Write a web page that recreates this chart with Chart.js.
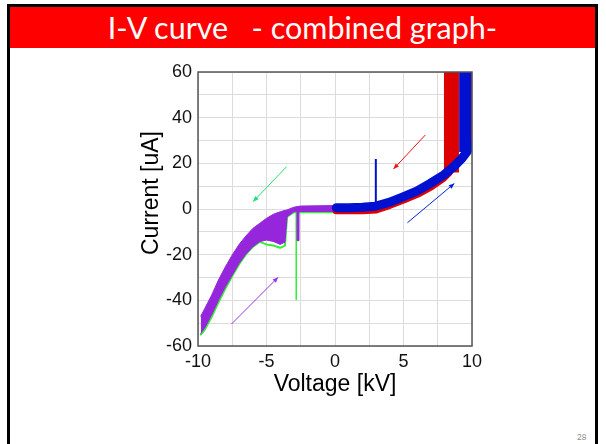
<!DOCTYPE html>
<html>
<head>
<meta charset="utf-8">
<script src="https://cdn.jsdelivr.net/npm/chart.js@4.4.1/dist/chart.umd.min.js"></script>
<style>
	body { margin: 0; width: 606px; height: 444px; background: #fff; overflow: hidden; position: relative; font-family: Lato, sans-serif; }
	#marco { position: absolute; left: 7px; top: 4px; width: 585px; height: 460px; border: 3px solid #000; border-bottom: none; }
	#titulo { position: absolute; left: 0; top: 0; width: 585px; height: 41px; background: #ff0000; color: #fff; font-size: 30.5px; line-height: 41px; text-align: center; white-space: pre; }
	#pagina { position: absolute; left: 577px; top: 432px; font-size: 8px; color: #888; }
	#caixa { position: absolute; left: 130px; top: 62px; width: 362px; height: 336px; }
</style>
</head>
<body>
<div id="marco"><div id="titulo">I-V curve   - combined graph-</div></div>
<div id="pagina">28</div>
<div id="caixa"><canvas id="grafico_iv"></canvas></div>

<script>
// eixos
var x_ticks = [-10, -5, 0, 5, 10];
var y_ticks = [-60, -40, -20, 0, 20, 40, 60];

// subida positiva (azul) - centro da faixa
var azul_v = [0.1, 1, 2, 2.93, 4, 5, 6, 6.95, 7.93, 8.66, 9.27, 9.63, 9.9];
var azul_i = [0.6, 0.6, 0.8, 1.2, 3.0, 5.4, 7.9, 11.2, 14.9, 18.5, 22.2, 25.1, 28];
var azul_coluna_v = [9.5, 9.5];
var azul_coluna_i = [25, 60];
var azul_pico_v = [2.98, 2.98];
var azul_pico_i = [1.5, 21.9];

// descida positiva (vermelho)
var verm_v = [0.1, 1, 2, 3, 4, 5, 6, 7, 7.9, 8.3];
var verm_i = [-0.6, -0.6, -0.5, -0.2, 1.8, 4.1, 6.6, 9.9, 13.6, 16];
var verm_coluna_v = [8.5, 8.5];
var verm_coluna_i = [16, 60];
var verm_borda_v = [9.97, 9.97];
var verm_borda_i = [27, 60];

// lado negativo (roxo = faixa entre topo e base)
var roxo_v = [-9.8, -9.5, -9, -8.5, -8, -7.5, -7, -6.5, -6, -5.5, -5, -4.5, -4, -3.65, -3.5, -3, -2.5, 0];
var roxo_topo = [-47, -43.5, -37.7, -31, -25.3, -20.1, -15.5, -11.8, -8.5, -6.3, -4.1, -2.3, -1.2, -0.6, -0.4, 0.8, 1.3, 1.5];
var roxo_base = [-54.5, -52, -46.3, -39.9, -34, -28.9, -23.8, -19.7, -16.5, -14.3, -13.6, -14.2, -15.5, -14.5, -3.4, -1.2, -1.1, -1.1];
var roxo_pico_v = [-2.7, -2.7];
var roxo_pico_i = [0, -13.5];

// verde (por baixo do roxo)
var verde_i = [-55, -52.8, -47.2, -40.8, -34.8, -29.4, -24.2, -19.9, -16.6, -14.4, -15.5, -16, -17, -16, -3.4, -1.4, -1.4, -1.4];
var verde_pico_v = [-2.83, -2.83];
var verde_pico_i = [0, -39.6];

// setas: inicio e fim em kV / uA
var setas_cor = ["#22dd77", "#9933ee", "#ee1111", "#0022dd"];
var setas_v0 = [-3.54, -7.56, 6.59, 5.29];
var setas_i0 = [18.5, -50.4, 32.4, -6.0];
var setas_v1 = [-5.98, -4.15, 4.27, 8.71];
var setas_i1 = [3.2, -29.9, 17.5, 11.2];

function pontos(vs, is) {
	return vs.map(function (v, k) { return { x: v, y: is[k] }; });
}

function linha(vs, is, cor, largura, ordem, extra) {
	var ds = {
		data: pontos(vs, is),
		borderColor: cor,
		backgroundColor: cor,
		borderWidth: largura,
		pointRadius: 0,
		showLine: true,
		borderJoinStyle: "round",
		borderCapStyle: "round",
		order: ordem,
	};
	for (var k in extra) ds[k] = extra[k];
	return ds;
}

var AZUL = "#0010d0";
var VERMELHO = "#dd0000";
var ROXO = "#9526dc";
var VERDE = "#33ee33";

var datasets = [
	linha(azul_pico_v, azul_pico_i, AZUL, 2, 0, { borderCapStyle: "butt" }),
	linha(azul_coluna_v, azul_coluna_i, AZUL, 12, 1, { borderCapStyle: "butt" }),
	linha(azul_v, azul_i, AZUL, 9, 2),
	linha(verm_borda_v, verm_borda_i, VERMELHO, 3, 3, { borderCapStyle: "butt" }),
	linha(verm_coluna_v, verm_coluna_i, VERMELHO, 15, 4, { borderCapStyle: "butt" }),
	linha(verm_v, verm_i, VERMELHO, 8, 5),
	linha(roxo_pico_v, roxo_pico_i, ROXO, 3, 6, { borderCapStyle: "butt" }),
	linha(roxo_v, roxo_topo, ROXO, 1, 7, { fill: "+1" }),
	linha(roxo_v, roxo_base, ROXO, 1, 8),
	linha(roxo_v, verde_i, VERDE, 2, 9),
	linha(verde_pico_v, verde_pico_i, VERDE, 1.5, 10, { borderCapStyle: "butt" }),
];

var moldura_e_setas = {
	id: "moldura_e_setas",
	afterDatasetsDraw: function (chart) {
		var ctx = chart.ctx;
		var a = chart.chartArea;
		var sx = chart.scales.x;
		var sy = chart.scales.y;
		ctx.save();
		ctx.strokeStyle = "#555";
		ctx.lineWidth = 1.5;
		ctx.strokeRect(a.left, a.top, a.right - a.left, a.bottom - a.top);

		for (var k = 0; k < setas_cor.length; k++) {
			var x0 = sx.getPixelForValue(setas_v0[k]);
			var y0 = sy.getPixelForValue(setas_i0[k]);
			var x1 = sx.getPixelForValue(setas_v1[k]);
			var y1 = sy.getPixelForValue(setas_i1[k]);
			var ang = Math.atan2(y1 - y0, x1 - x0);
			ctx.strokeStyle = setas_cor[k];
			ctx.fillStyle = setas_cor[k];
			ctx.lineWidth = 1;
			ctx.beginPath();
			ctx.moveTo(x0, y0);
			ctx.lineTo(x1, y1);
			ctx.stroke();
			ctx.beginPath();
			ctx.moveTo(x1, y1);
			ctx.lineTo(x1 - 6 * Math.cos(ang - 0.4), y1 - 6 * Math.sin(ang - 0.4));
			ctx.lineTo(x1 - 6 * Math.cos(ang + 0.4), y1 - 6 * Math.sin(ang + 0.4));
			ctx.closePath();
			ctx.fill();
		}
		ctx.restore();
	},
};

var fonte_ticks = { family: "'Liberation Sans', Arial, sans-serif", size: 18 };
var fonte_titulo = { family: "'Liberation Sans', Arial, sans-serif", size: 23 };

// tira o espaco extra que o Chart.js reserva para os rotulos nas pontas
function sem_folga(s) {
	s.paddingTop = 0;
	s.paddingBottom = 0;
	s.paddingLeft = 0;
	s.paddingRight = 0;
}

new Chart(document.getElementById("grafico_iv"), {
	type: "scatter",
	data: { datasets: datasets },
	options: {
		responsive: true,
		maintainAspectRatio: false,
		animation: false,
		layout: { padding: { top: 10, right: 20, left: 0, bottom: 0 } },
		plugins: { legend: { display: false }, tooltip: { enabled: false } },
		scales: {
			x: {
				type: "linear",
				min: x_ticks[0],
				max: x_ticks[x_ticks.length - 1],
				ticks: {
					stepSize: 2.5,
					autoSkip: false,
					maxRotation: 0,
					padding: 5,
					color: "#111",
					font: fonte_ticks,
					callback: function (v) { return x_ticks.indexOf(v) >= 0 ? String(v) : ""; },
				},
				grid: { color: "#dcdcdc", drawTicks: false },
				border: { display: false },
				title: { display: true, text: "Voltage [kV]", color: "#000", font: fonte_titulo, padding: { top: 0, bottom: 0 } },
				afterFit: function (s) { s.height = 52; sem_folga(s); },
			},
			y: {
				type: "linear",
				min: y_ticks[0],
				max: y_ticks[y_ticks.length - 1],
				ticks: {
					stepSize: 10,
					autoSkip: false,
					padding: 6,
					color: "#111",
					font: fonte_ticks,
					callback: function (v) { return y_ticks.indexOf(v) >= 0 ? String(v) : ""; },
				},
				grid: { color: "#dcdcdc", drawTicks: false },
				border: { display: false },
				// espacos no inicio sobem o texto, como no slide original
				title: { display: true, text: "     Current [uA]", color: "#000", font: fonte_titulo, padding: { top: 8, bottom: 0 } },
				afterFit: function (s) { s.width = 68; sem_folga(s); },
			},
		},
	},
	plugins: [moldura_e_setas],
});
</script>
</body>
</html>
